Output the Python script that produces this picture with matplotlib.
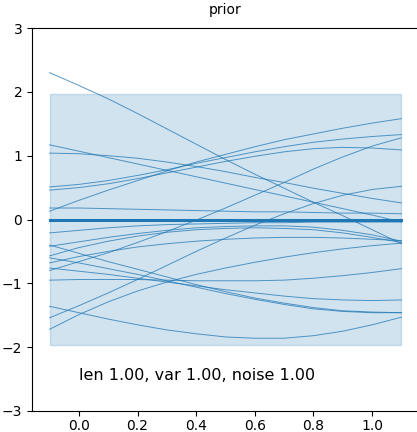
import numpy as np
import matplotlib
matplotlib.use("Agg")
import matplotlib.pyplot as plt

# inputs where the prior was evaluated
x_pts = [-0.1, 0.0, 0.1, 0.2, 0.3, 0.4, 0.5, 0.6, 0.7, 0.8, 0.9, 1.0, 1.1]

# prior mean and 95% band
mean = [0.0] * 13
upper = [1.96] * 13
lower = [-1.96] * 13

s01 = [2.30, 2.10, 1.89, 1.66, 1.42, 1.18, 0.94, 0.71, 0.49, 0.27, 0.06, -0.16, -0.38]
s02 = [1.17, 1.07, 0.97, 0.87, 0.77, 0.67, 0.57, 0.47, 0.37, 0.27, 0.17, 0.07, -0.04]
s03 = [1.04, 1.03, 1.00, 0.96, 0.90, 0.83, 0.75, 0.66, 0.58, 0.49, 0.41, 0.33, 0.26]
s04 = [0.51, 0.55, 0.61, 0.69, 0.78, 0.88, 0.97, 1.06, 1.14, 1.21, 1.26, 1.30, 1.33]
s05 = [0.46, 0.50, 0.56, 0.64, 0.73, 0.82, 0.91, 0.99, 1.06, 1.11, 1.13, 1.12, 1.09]
s06 = [0.18, 0.18, 0.17, 0.16, 0.15, 0.14, 0.13, 0.12, 0.12, 0.11, 0.10, 0.10, 0.09]
s07 = [0.13, 0.30, 0.46, 0.61, 0.76, 0.90, 1.02, 1.14, 1.25, 1.34, 1.43, 1.51, 1.58]
s08 = [-0.21, -0.17, -0.13, -0.10, -0.08, -0.07, -0.06, -0.05, -0.05, -0.04, -0.04, -0.04, -0.04]
s09 = [-0.42, -0.35, -0.28, -0.22, -0.17, -0.13, -0.11, -0.10, -0.10, -0.12, -0.17, -0.24, -0.34]
s10 = [-0.57, -0.44, -0.34, -0.26, -0.20, -0.16, -0.14, -0.13, -0.14, -0.16, -0.21, -0.28, -0.36]
s11 = [-0.68, -0.58, -0.50, -0.43, -0.38, -0.34, -0.31, -0.29, -0.28, -0.28, -0.29, -0.31, -0.33]
s12 = [-0.40, -0.53, -0.66, -0.78, -0.90, -1.02, -1.13, -1.23, -1.31, -1.38, -1.43, -1.45, -1.46]
s13 = [-0.60, -0.68, -0.77, -0.86, -0.96, -1.06, -1.16, -1.25, -1.33, -1.40, -1.44, -1.46, -1.46]
s14 = [-0.76, -0.81, -0.86, -0.92, -0.98, -1.04, -1.10, -1.15, -1.20, -1.24, -1.26, -1.27, -1.26]
s15 = [-0.80, -0.66, -0.52, -0.36, -0.19, -0.01, 0.18, 0.38, 0.58, 0.79, 0.98, 1.15, 1.28]
s16 = [-0.95, -0.94, -0.94, -0.94, -0.95, -0.96, -0.96, -0.96, -0.95, -0.92, -0.88, -0.83, -0.77]
s17 = [-1.36, -1.46, -1.56, -1.65, -1.73, -1.79, -1.84, -1.86, -1.86, -1.82, -1.75, -1.65, -1.53]
s18 = [-1.54, -1.35, -1.15, -0.94, -0.72, -0.50, -0.29, -0.09, 0.09, 0.25, 0.38, 0.47, 0.52]
s19 = [-1.72, -1.49, -1.29, -1.12, -0.98, -0.86, -0.76, -0.67, -0.59, -0.52, -0.46, -0.41, -0.37]

samples = [s01, s02, s03, s04, s05, s06, s07, s08, s09, s10,
           s11, s12, s13, s14, s15, s16, s17, s18, s19]

fig = plt.figure(figsize=(4.17, 4.32), dpi=100)
ax = fig.add_axes([32 / 417, 21 / 432, 387 / 417, 383 / 432])

ax.fill_between(x_pts, lower, upper, color='C0', alpha=0.2)
for s in samples:
    ax.plot(x_pts, s, color='C0', lw=0.7, alpha=0.75)
ax.plot(x_pts, mean, color='C0', lw=2.2)

ax.text(0.0, -2.45, "len 1.00, var 1.00, noise 1.00", fontsize=11.5, va='center')
ax.set_title("prior", fontsize=10, pad=10)
ax.set_xlim(-0.16, 1.16)
ax.set_ylim(-3, 3)
ax.set_xticks([0.0, 0.2, 0.4, 0.6, 0.8, 1.0])
ax.set_yticks([-3, -2, -1, 0, 1, 2, 3])
ax.tick_params(axis='x', pad=2)

fig.savefig("out.png", dpi=100)
